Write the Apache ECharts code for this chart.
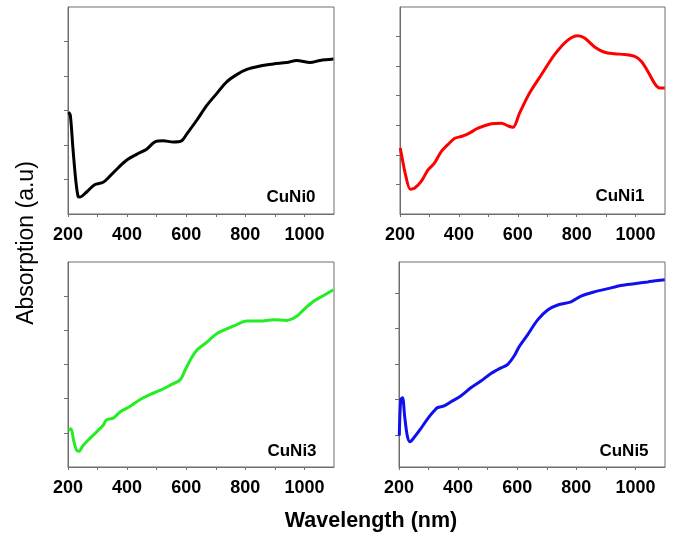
<!DOCTYPE html>
<html><head><meta charset="utf-8">
<script src="https://cdn.jsdelivr.net/npm/echarts@6/dist/echarts.min.js"></script>
<style>html,body{margin:0;padding:0;background:#fff}#c{width:674px;height:534px}</style>
</head><body><div id="c"></div>
<script>
// ---- data ----
const xTickValues = [200,300,400,500,600,700,800,900,1000];
const xLabelValues = [200,400,600,800,1000];
const sampleNames = ['CuNi0','CuNi1','CuNi3','CuNi5'];

const wl0 = [202,208,217,226,234,240,262,290,319,341,370,398,432,466,494,522,556,584,601,635,669,703,737,771,805,850,895,940,974,1019,1053,1098];
const cuNi0 = [2.95,2.85,1.87,1.0,0.51,0.49,0.63,0.85,0.92,1.09,1.34,1.56,1.73,1.88,2.09,2.12,2.09,2.12,2.31,2.71,3.14,3.49,3.83,4.04,4.19,4.29,4.35,4.39,4.45,4.39,4.45,4.49];

const wl1 = [201,204,220,235,249,272,295,317,340,368,386,408,431,465,510,544,567,584,606,640,680,725,770,804,827,861,895,929,963,997,1020,1042,1065,1082,1099];
const cuNi1 = [2.23,2.06,1.27,0.84,0.87,1.10,1.49,1.72,2.11,2.40,2.56,2.62,2.71,2.90,3.05,3.07,2.98,2.93,3.41,4.09,4.71,5.39,5.88,6.03,5.95,5.65,5.47,5.42,5.39,5.33,5.16,4.82,4.41,4.26,4.26];

const wl3 = [202,210,219,228,237,251,273,296,319,330,353,376,409,443,477,511,545,579,596,613,635,669,703,737,771,805,850,895,940,974,997,1031,1065,1098];
const cuNi3 = [1.07,1.12,0.78,0.51,0.46,0.63,0.83,1.02,1.22,1.38,1.43,1.61,1.77,1.97,2.12,2.24,2.39,2.55,2.83,3.12,3.41,3.65,3.90,4.04,4.17,4.27,4.27,4.31,4.29,4.41,4.60,4.85,5.02,5.19];

const wl5 = [201,206,212,219,228,237,251,273,296,319,330,353,375,409,443,477,511,545,567,590,607,635,669,703,737,782,816,861,906,951,996,1042,1076,1099];
const cuNi5 = [0.98,2.00,2.05,1.54,0.98,0.81,0.93,1.17,1.45,1.68,1.77,1.82,1.93,2.10,2.33,2.52,2.73,2.89,2.98,3.23,3.49,3.82,4.24,4.52,4.66,4.75,4.91,5.03,5.12,5.21,5.26,5.31,5.35,5.37];

const yTicks0 = [1,2,3,4,5];
const yTicks1 = [1,2,3,4,5,6];
const yTicks3 = [1,2,3,4,5];
const yTicks5 = [1,2,3,4,5];

// ---- layout / style ----
const panels = [
  {x: wl0, y: cuNi0, ticks: yTicks0, ymin: 0, ymax: 6, color: '#000000', grid: {left: 68, top: 7, width: 266, height: 207}, label: [291, 197]},
  {x: wl1, y: cuNi1, ticks: yTicks1, ymin: 0, ymax: 7, color: '#ff0000', grid: {left: 400, top: 7, width: 265, height: 207}, label: [620, 196]},
  {x: wl3, y: cuNi3, ticks: yTicks3, ymin: 0, ymax: 6, color: '#22ee22', grid: {left: 68, top: 262, width: 266, height: 205}, label: [292, 451]},
  {x: wl5, y: cuNi5, ticks: yTicks5, ymin: 0.1, ymax: 5.87, color: '#1010ee', grid: {left: 399, top: 262, width: 266, height: 205}, label: [624, 451]}
];
const frameColor = '#6e6e6e';

const option = {
  animation: false,
  backgroundColor: '#ffffff',
  grid: panels.map(p => Object.assign({show: true, borderColor: frameColor, borderWidth: 1, backgroundColor: 'transparent'}, p.grid)),
  xAxis: panels.map((p, i) => ({
    type: 'value', gridIndex: i, min: 200, max: 1100, interval: 100,
    axisLine: {show: true, lineStyle: {color: frameColor, width: 1}},
    axisTick: {show: true, length: 3, lineStyle: {color: frameColor}, customValues: xTickValues},
    axisLabel: {show: true, margin: 12, color: '#000', fontFamily: 'Arial, Liberation Sans', fontWeight: 'bold', fontSize: 18,
      customValues: xLabelValues, formatter: v => (v % 200 === 0 && v <= 1000) ? String(v) : ''},
    splitLine: {show: false}
  })),
  yAxis: panels.map((p, i) => ({
    type: 'value', gridIndex: i, min: p.ymin, max: p.ymax,
    axisLine: {show: true, lineStyle: {color: frameColor, width: 1}},
    axisTick: {show: true, length: 4, lineStyle: {color: frameColor}, customValues: p.ticks},
    axisLabel: {show: false},
    splitLine: {show: false}
  })),
  series: panels.map((p, i) => ({
    type: 'line', xAxisIndex: i, yAxisIndex: i,
    data: p.x.map((xv, k) => [xv, p.y[k]]),
    showSymbol: false, smooth: 0.3,
    lineStyle: {color: p.color, width: 3}
  })),
  graphic: [
    {type: 'text', x: 371, y: 521, style: {text: 'Wavelength (nm)', fill: '#000', font: 'bold 21.5px Arial, "Liberation Sans"', textAlign: 'center', textVerticalAlign: 'middle'}},
    {type: 'text', x: 27, y: 243, rotation: Math.PI / 2, style: {text: 'Absorption (a.u)', fill: '#000', font: '23px Arial, "Liberation Sans"', textAlign: 'center', textVerticalAlign: 'middle'}}
  ].concat(panels.map((p, i) => ({
    type: 'text', x: p.label[0], y: p.label[1],
    style: {text: sampleNames[i], fill: '#000', font: 'bold 17px Arial, "Liberation Sans"', textAlign: 'center', textVerticalAlign: 'middle'}
  })))
};
const chart = echarts.init(document.getElementById('c'), null, {renderer: 'canvas'});
chart.setOption(option);
</script></body></html>
